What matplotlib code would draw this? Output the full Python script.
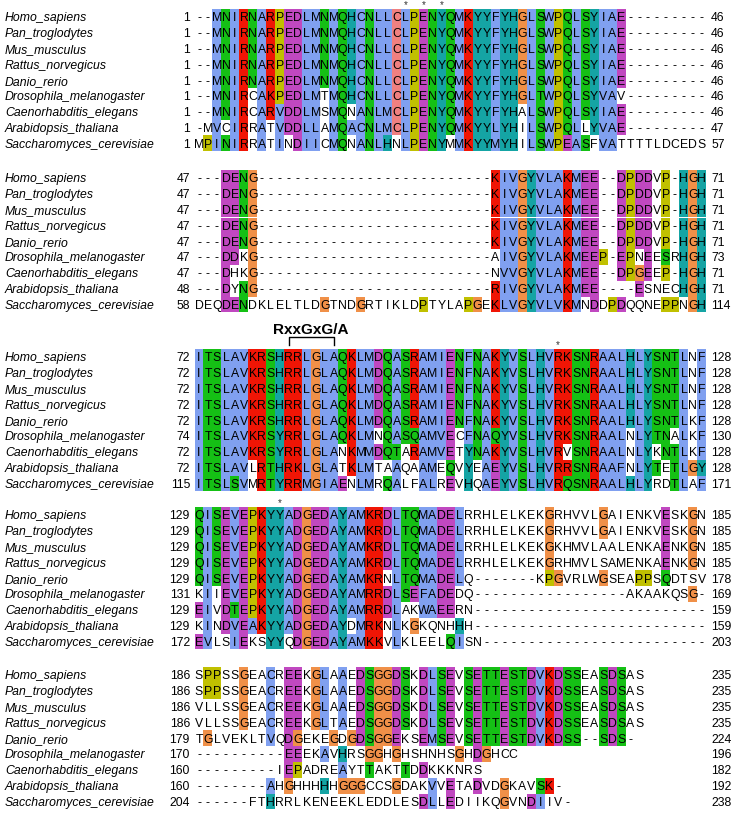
import matplotlib
matplotlib.use('Agg')
import matplotlib.pyplot as plt
from matplotlib.patches import Rectangle
from collections import Counter

plt.rcParams['font.family'] = ['Liberation Sans', 'DejaVu Sans']

# Species names (row labels)
species = ['Homo_sapiens', 'Pan_troglodytes', 'Mus_musculus', 'Rattus_norvegicus',
           'Danio_rerio', 'Drosophila_melanogaster', 'Caenorhabditis_elegans',
           'Arabidopsis_thaliana', 'Saccharomyces_cerevisiae']

# Alignment blocks
block1 = [
    '--MNIRNARPEDLMNMQHCNLLCLPENYQMKYYFYHGLSWPQLSYIAE---------',
    '--MNIRNARPEDLMNMQHCNLLCLPENYQMKYYFYHGLSWPQLSYIAE---------',
    '--MNIRNARPEDLMNMQHCNLLCLPENYQMKYYFYHGLSWPQLSYIAE---------',
    '--MNIRNARPEDLMNMQHCNLLCLPENYQMKYYFYHGLSWPQLSYIAE---------',
    '--MNIRNARPEDLMNMQHCNLLCLPENYQMKYYFYHGLSWPQLSYIAE---------',
    '--MNIRCAKPEDLMTMQHCNLLCLPENYQMKYYFYHGLTWPQLSYVAV---------',
    '--MNIRCARVDDLMSMQNANLMCLPENYQMKYYFYHALSWPQLSYIAE---------',
    '-MVCIRRATVDDLLAMQACNLMCLPENYQMKYYLYHILSWPQLLYVAE---------',
    'MPINIRRATINDIICMQNANLHNLPENYMMKYYMYHILSWPEASFVATTTTLDCEDS',
]
block1_start = [1, 1, 1, 1, 1, 1, 1, 1, 1]
block1_end = [46, 46, 46, 46, 46, 46, 46, 47, 57]

gap26 = '-' * 26
block2 = [
    '---DENG' + gap26 + 'KIVGYVLAKMEE--DPDDVP-HGH',
    '---DENG' + gap26 + 'KIVGYVLAKMEE--DPDDVP-HGH',
    '---DENG' + gap26 + 'KIVGYVLAKMEE--DPDDVP-HGH',
    '---DENG' + gap26 + 'KIVGYVLAKMEE--DPDDVP-HGH',
    '---DENG' + gap26 + 'KIVGYVLAKMEE--DPDDVP-HGH',
    '---DDKG' + gap26 + 'AIVGYVLAKMEEP-EPNEESRHGH',
    '---DHKG' + gap26 + 'NVVGYVLAKMEE--DPGEEP-HGH',
    '---DYNG' + gap26 + 'RIVGYVLAKMEE----ESNECHGH',
    'DEQDENDKLELTLDGTNDGRTIKLDPTYLAPGEKLVGYVLVKMNDDPDQQNEPPNGH',
]
block2_start = [47, 47, 47, 47, 47, 47, 47, 48, 58]
block2_end = [71, 71, 71, 71, 71, 73, 71, 71, 114]

block3 = [
    'ITSLAVKRSHRRLGLAQKLMDQASRAMIENFNAKYVSLHVRKSNRAALHLYSNTLNF',
    'ITSLAVKRSHRRLGLAQKLMDQASRAMIENFNAKYVSLHVRKSNRAALHLYSNTLNF',
    'ITSLAVKRSHRRLGLAQKLMDQASRAMIENFNAKYVSLHVRKSNRAALHLYSNTLNF',
    'ITSLAVKRSHRRLGLAQKLMDQASRAMIENFNAKYVSLHVRKSNRAALHLYSNTLNF',
    'ITSLAVKRSHRRLGLAQKLMDQASRAMIENFNAKYVSLHVRKSNRAALHLYSNTLKF',
    'ITSLAVKRSYRRLGLAQKLMNQASQAMVECFNAQYVSLHVRKSNRAALNLYTNALKF',
    'ITSLAVKRSYRRLGLANKMMDQTARAMVETYNAKYVSLHVRVSNRAALNLYKNTLKF',
    'ITSLAVLRTHRKLGLATKLMTAAQAAMEQVYEAEYVSLHVRRSNRAAFNLYTETLGY',
    'ITSLSVMRTYRRMGIAENLMRQALFALREVHQAEYVSLHVRQSNRAALHLYRDTLAF',
]
block3_start = [72, 72, 72, 72, 72, 74, 72, 72, 115]
block3_end = [128, 128, 128, 128, 128, 130, 128, 128, 171]

block4 = [
    'QISEVEPKYYADGEDAYAMKRDLTQMADELRRHLELKEKGRHVVLGAIENKVESKGN',
    'QISEVEPKYYADGEDAYAMKRDLTQMADELRRHLELKEKGRHVVLGAIENKVESKGN',
    'QISEVEPKYYADGEDAYAMKRDLTQMADELRRHLELKEKGKHMVLAALENKAENKGN',
    'QISEVEPKYYADGEDAYAMKRDLTQMADELRRHLELKEKGRHMVLSAMENKAENKGN',
    'QISEVEPKYYADGEDAYAMKRNLTQMADELQ-------KPGVRLWGSEAPPSQDTSV',
    'KIIEVEPKYYADGEDAYAMRRDLSEFADEDQ-----------------AKAAKQSG-',
    'EIVDTEPKYYADGEDAYAMRRDLAKWAEERN--------------------------',
    'KINDVEAKYYADGEDAYDMRKNLKGKQNHHH--------------------------',
    'EVLSIEKSYYQDGEDAYAMKKVLKLEELQISN-------------------------',
]
block4_start = [129, 129, 129, 129, 129, 131, 129, 129, 172]
block4_end = [185, 185, 185, 185, 178, 169, 159, 159, 203]

block5 = [
    'SPPSSGEACREEKGLAAEDSGGDSKDLSEVSETTESTDVKDSSEASDSAS',
    'SPPSSGEACREEKGLAAEDSGGDSKDLSEVSETTESTDVKDSSEASDSAS',
    'VLLSSGEACREEKGLAAEDSGGDSKDLSEVSETTESTDVKDSSEASDSAS',
    'VLLSSGEACREEKGLTAEDSGGDSKDLSEVSETTESTDVKDSSEASDSAS',
    'TGLVEKLTVQDGEKEGDGDSGGEKSEMSEVSETTESTDVKDSS--SDS-',
    '----------EEEKAVHRSGGHGHSHNHSGHDGHCC',
    '---------IEPADREAYTTAKTTDDKKKNRS',
    '--------AHGHHHHHGGGCCSGDAKVVETADVDGKAVSK-',
    '------FTHRRLKENEEKLEDDLESDLLEDIIKQGVNDIIV-',
]
block5_start = [186, 186, 186, 186, 179, 170, 160, 160, 204]
block5_end = [235, 235, 235, 235, 224, 196, 182, 192, 238]

blocks = [block1, block2, block3, block4, block5]
starts = [block1_start, block2_start, block3_start, block4_start, block5_start]
ends = [block1_end, block2_end, block3_end, block4_end, block5_end]

# marked columns (1-based) per block
star_cols = {0: [24, 26, 28], 2: [41], 3: [10]}
motif_block = 2
motif_cols = (11, 16)
motif_label = 'RxxGxG/A'

# ClustalX colours
BLUE = '#80a0f0'
RED = '#f01505'
GREEN = '#15c015'
CYAN = '#15a4a4'
PINK = '#f08080'
MAGENTA = '#c048c0'
YELLOW = '#c0c000'
ORANGE = '#f09048'


def clustalx_colours(column):
    n = len(column)
    cnt = Counter(column)

    def frac(letters):
        return sum(cnt[c] for c in letters) / n

    def any85(letters):
        return any(cnt[c] / n > 0.85 for c in letters)

    hyd = frac('WLVIMAFCHP') > 0.6
    kr = frac('KR') > 0.6
    ed = frac('ED') > 0.5
    qe = frac('QE') > 0.5
    ts = frac('TS') > 0.5
    nn = frac('N') > 0.5
    out = []
    for aa in column:
        col = None
        if aa in 'AILMFWV':
            col = BLUE if hyd else None
        elif aa == 'C':
            if any85('C'):
                col = PINK
            elif hyd:
                col = BLUE
        elif aa in 'KR':
            col = RED if (kr or any85('KRQ')) else None
        elif aa == 'E':
            col = MAGENTA if (kr or qe or ed or any85('EQD')) else None
        elif aa == 'D':
            col = MAGENTA if (kr or any85('KRQ') or ed or any85('D')) else None
        elif aa == 'N':
            col = GREEN if (nn or any85('NY')) else None
        elif aa == 'Q':
            col = GREEN if (kr or qe or any85('KRQ')) else None
        elif aa in 'ST':
            col = GREEN if (hyd or ts or any85('ST')) else None
        elif aa == 'G':
            col = ORANGE
        elif aa == 'P':
            col = YELLOW
        elif aa in 'HY':
            col = CYAN if (hyd or any85('WYACPQFHILMV')) else None
        out.append(col)
    return out


fig = plt.figure(figsize=(7.36, 8.13), dpi=100)
ax = fig.add_axes([0, 0, 1, 1])
ax.set_xlim(0, 736)
ax.set_ylim(813, 0)
ax.axis('off')

X0 = 199.0      # centre of first alignment column
DX = 8.98       # column width
DY = 15.8       # row height
FS = 8.8
block_y = [17, 178, 357, 515, 675]

for b, seqs in enumerate(blocks):
    width = max(len(s) for s in seqs)
    padded = [s.ljust(width) for s in seqs]
    y0 = block_y[b]
    for c in range(width):
        column = [s[c] for s in padded]
        cols = clustalx_colours(column)
        for r, aa in enumerate(column):
            if aa == ' ':
                continue
            x = X0 + c * DX
            y = y0 + r * DY
            if cols[r] is not None:
                ax.add_patch(Rectangle((x - DX / 2, y - DY / 2), DX, DY,
                                       facecolor=cols[r], edgecolor='none'))
            ax.text(x, y + 4.4, aa, ha='center', va='baseline', fontsize=FS)
    for r in range(len(seqs)):
        y = y0 + r * DY
        ax.text(5, y + 4.4, species[r], ha='left', va='baseline',
                fontsize=FS, style='italic')
        ax.text(190, y + 4.4, str(starts[b][r]), ha='right', va='baseline',
                fontsize=FS)
        ax.text(711, y + 4.4, str(ends[b][r]), ha='left', va='baseline',
                fontsize=FS)
    for sc in star_cols.get(b, []):
        ax.text(X0 + (sc - 1) * DX, y0 - 12, '*', ha='center', va='center',
                fontsize=7, color='#333333')

# motif bracket and label above block 3
c1, c2 = motif_cols
xa = X0 + (c1 - 1) * DX
xb = X0 + (c2 - 1) * DX
yt = block_y[motif_block] - 20
ax.plot([xa, xa, xb, xb], [yt + 8, yt, yt, yt + 8], color='black', lw=1)
ax.text((xa + xb) / 2, yt - 3, motif_label, ha='center', va='baseline',
        fontsize=11, fontweight='bold')

fig.savefig('out.png', dpi=100)
